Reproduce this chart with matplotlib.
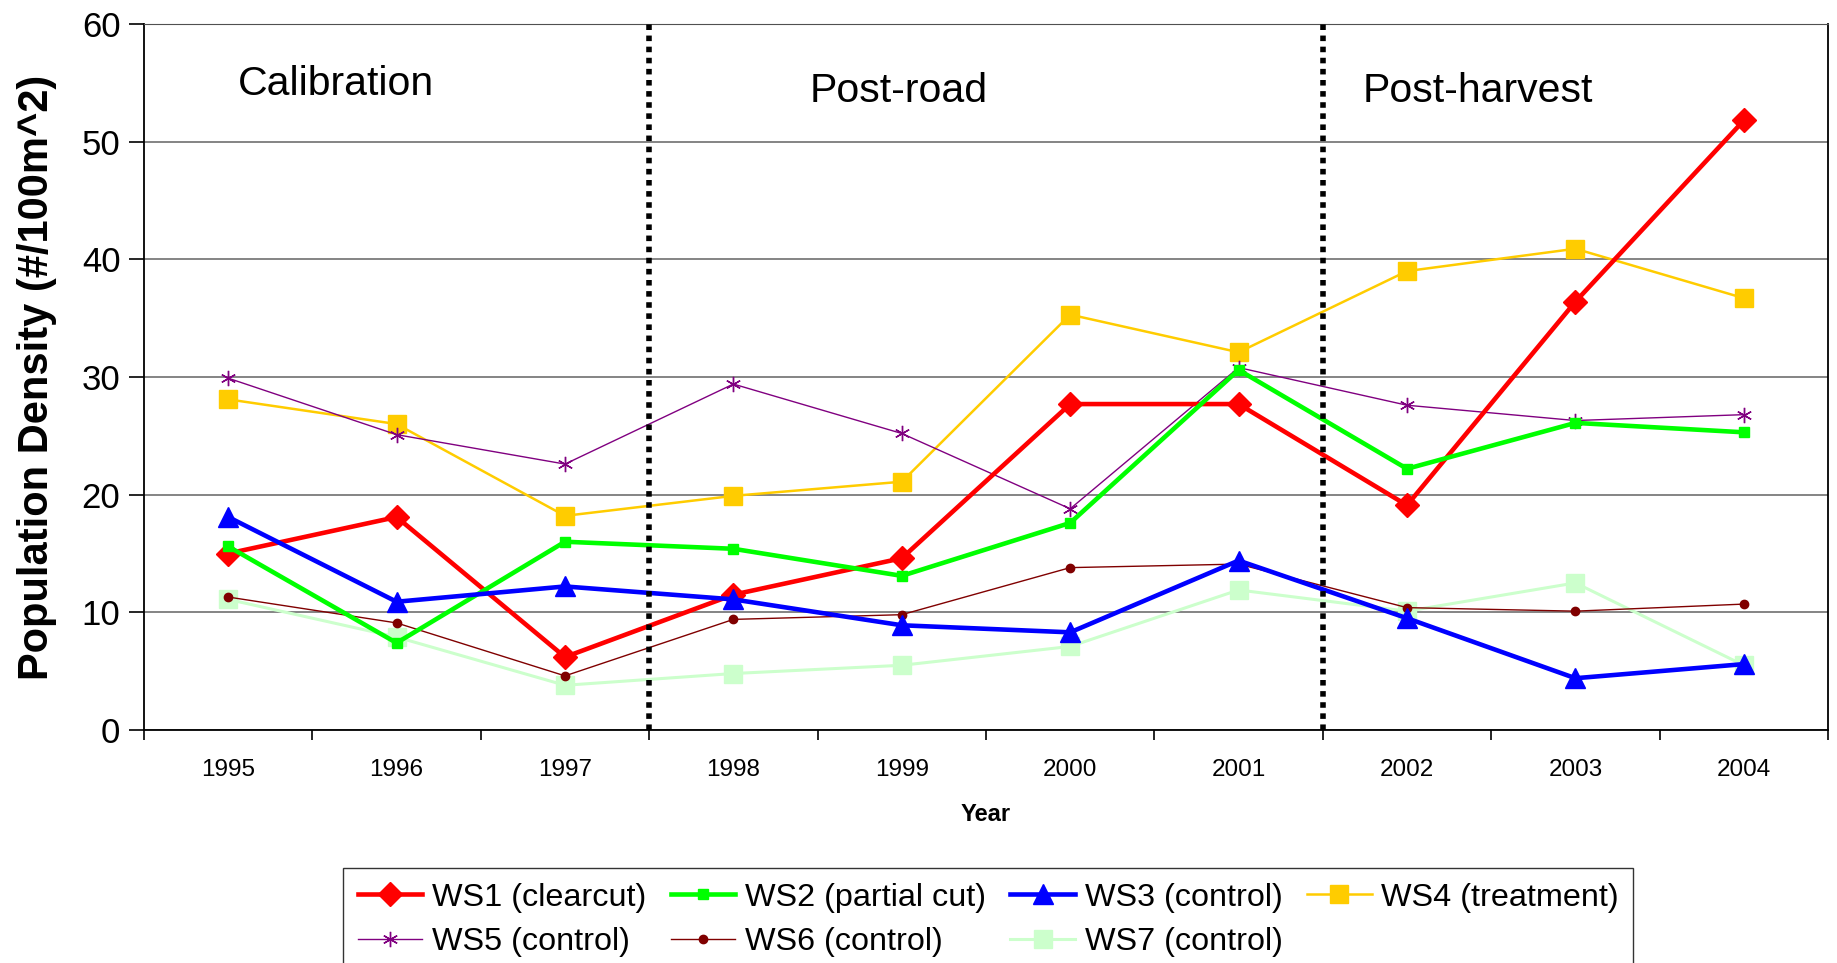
import matplotlib
matplotlib.use("Agg")
import matplotlib.pyplot as plt
import numpy as np

plt.rcParams['font.family'] = ['Liberation Sans', 'DejaVu Sans']

years = ['1995', '1996', '1997', '1998', '1999', '2000', '2001', '2002', '2003', '2004']

ws1 = [15.0, 18.1, 6.2, 11.5, 14.6, 27.7, 27.7, 19.1, 36.4, 51.8]
ws2 = [15.6, 7.4, 16.0, 15.4, 13.1, 17.6, 30.6, 22.2, 26.1, 25.3]
ws3 = [18.1, 10.9, 12.2, 11.1, 8.9, 8.3, 14.4, 9.5, 4.4, 5.6]
ws4 = [28.1, 26.0, 18.2, 19.9, 21.1, 35.3, 32.1, 39.0, 40.9, 36.7]
ws5 = [29.9, 25.1, 22.6, 29.4, 25.2, 18.8, 30.8, 27.6, 26.3, 26.8]
ws6 = [11.3, 9.1, 4.6, 9.4, 9.8, 13.8, 14.1, 10.4, 10.1, 10.7]
ws7 = [11.1, 7.9, 3.8, 4.8, 5.5, 7.1, 11.9, 10.1, 12.5, 5.5]

labels = ['WS1 (clearcut)', 'WS2 (partial cut)', 'WS3 (control)', 'WS4 (treatment)',
          'WS5 (control)', 'WS6 (control)', 'WS7 (control)']

phases = ['Calibration', 'Post-road', 'Post-harvest']

fig = plt.figure(figsize=(18.37, 9.63), dpi=100)
ax = fig.add_axes([144 / 1837, 1 - 730 / 963, (1828 - 144) / 1837, (730 - 24) / 963])

x = np.arange(len(years))

h1, = ax.plot(x, ws1, color='#FF0000', lw=3.3, marker='D', ms=12, mec='#FF0000', label=labels[0], zorder=5)
h2, = ax.plot(x, ws2, color='#00FF00', lw=3.3, marker='s', ms=6.5, mec='#00FF00', label=labels[1], zorder=5)
h3, = ax.plot(x, ws3, color='#0000FF', lw=3.3, marker='^', ms=14, mec='#0000FF', label=labels[2], zorder=5)
h4, = ax.plot(x, ws4, color='#FFCC00', lw=1.8, marker='s', ms=13.5, mec='#FFCC00', label=labels[3], zorder=4)
h5, = ax.plot(x, ws5, color='#800080', lw=1.0, marker=(6, 2, 0), ms=11, mec='#800080', mew=1.0, label=labels[4], zorder=4)
h6, = ax.plot(x, ws6, color='#800000', lw=1.0, marker='o', ms=6, mec='#800000', label=labels[5], zorder=4)
h7, = ax.plot(x, ws7, color='#CCFFCC', lw=2.2, marker='s', ms=13.5, mec='#CCFFCC', label=labels[6], zorder=3)

# phase boundaries
for bx in [2.5, 6.5]:
    ax.axvline(bx, color='black', lw=4, linestyle=(0, (1, 1)), zorder=6)

ax.text(0.64, 54.9, phases[0], fontsize=29.5, ha='center', va='center')
ax.text(3.98, 54.3, phases[1], fontsize=29.5, ha='center', va='center')
ax.text(7.42, 54.3, phases[2], fontsize=29.5, ha='center', va='center')

ax.set_xlim(-0.5, 9.5)
ax.set_ylim(0, 60)
ax.set_yticks(np.arange(0, 61, 10))
ax.yaxis.grid(True, color='#707070', lw=1.2)
ax.set_axisbelow(True)

ax.set_xticks(x)
ax.set_xticklabels(years, fontsize=17.5)
ax.set_xticks(np.arange(-0.5, 10, 1), minor=True)
ax.tick_params(axis='x', which='major', length=0, pad=21)
ax.tick_params(axis='x', which='minor', length=7, width=1.2, direction='out')
ax.tick_params(axis='y', labelsize=25, length=11, width=1.2, direction='out', pad=6)

for s in ['left', 'bottom', 'right']:
    ax.spines[s].set_color('black')
    ax.spines[s].set_linewidth(1.3)
ax.spines['top'].set_color('#505050')

ax.set_xlabel('Year', fontsize=17, fontweight='bold', labelpad=16)
ax.set_ylabel('Population Density (#/100m^2)', fontsize=30, fontweight='bold', labelpad=18)

# row-wise order in a column-filled legend
order = [h1, h5, h2, h6, h3, h7, h4]
leg = fig.legend(handles=order, loc='upper left', bbox_to_anchor=(343 / 1837, 1 - 868 / 963), ncol=4,
                 fontsize=23.3, frameon=True, fancybox=False, edgecolor='black', handlelength=2.0,
                 columnspacing=0.75, handletextpad=0.3, borderpad=0.45, labelspacing=0.45,
                 borderaxespad=0)
leg.get_frame().set_linewidth(1.0)

fig.savefig('out.png', dpi=100)
